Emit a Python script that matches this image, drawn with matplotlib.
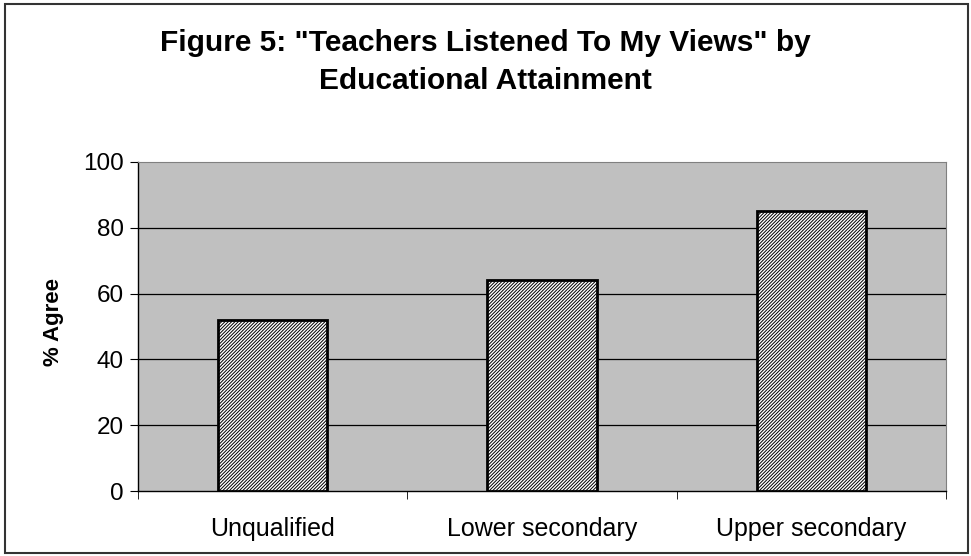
import numpy as np
import matplotlib
matplotlib.use('Agg')
import matplotlib.pyplot as plt

plt.rcParams['font.family'] = ['Liberation Sans', 'DejaVu Sans']
plt.rcParams['hatch.linewidth'] = 0.7

categories = ['Unqualified', 'Lower secondary', 'Upper secondary']
agree_pct = [52, 64, 85]
y_ticks = [0, 20, 40, 60, 80, 100]

W, H = 971, 556
fig = plt.figure(figsize=(W / 100, H / 100), dpi=100)
ax = fig.add_axes([138 / W, 1 - 491 / H, 808 / W, 329 / H])

ax.set_facecolor('#C0C0C0')
x = np.arange(len(categories))
ax.bar(x, agree_pct, width=0.405, facecolor='white', edgecolor='black',
       hatch='//////////', linewidth=2.0, zorder=3)

ax.set_xlim(-0.5, len(categories) - 0.5)
ax.set_ylim(0, 100)
ax.set_yticks(y_ticks)
ax.set_yticklabels([str(t) for t in y_ticks], fontsize=17.5)
ax.set_xticks(x)
ax.set_xticklabels(categories, fontsize=18)
ax.tick_params(axis='x', length=0, pad=19)
ax.set_xticks(np.arange(len(categories) + 1) - 0.5, minor=True)
ax.tick_params(axis='x', which='minor', length=6, direction='out', color='black')
ax.tick_params(axis='y', length=6, direction='out', pad=4)

for t in y_ticks[1:-1]:
    ax.axhline(t, color='black', linewidth=0.9, zorder=1)

for side in ['top', 'right']:
    ax.spines[side].set_color('#808080')
for side in ['left', 'bottom']:
    ax.spines[side].set_color('black')
    ax.spines[side].set_linewidth(1.0)

fig.text(53 / W, 1 - 322 / H, '% Agree', rotation=90, ha='center', va='center',
         fontsize=16, fontweight='bold')

fig.text(0.5, 1 - 51 / H, 'Figure 5: "Teachers Listened To My Views" by',
         ha='center', va='baseline', fontsize=21.5, fontweight='bold')
fig.text(0.5, 1 - 89 / H, 'Educational Attainment',
         ha='center', va='baseline', fontsize=21.5, fontweight='bold')

border = plt.Rectangle((5 / W, 3 / H), 963 / W, 549 / H, transform=fig.transFigure,
                       fill=False, edgecolor='#333333', linewidth=1.5)
fig.patches.append(border)

fig.savefig('out.png', dpi=100)
